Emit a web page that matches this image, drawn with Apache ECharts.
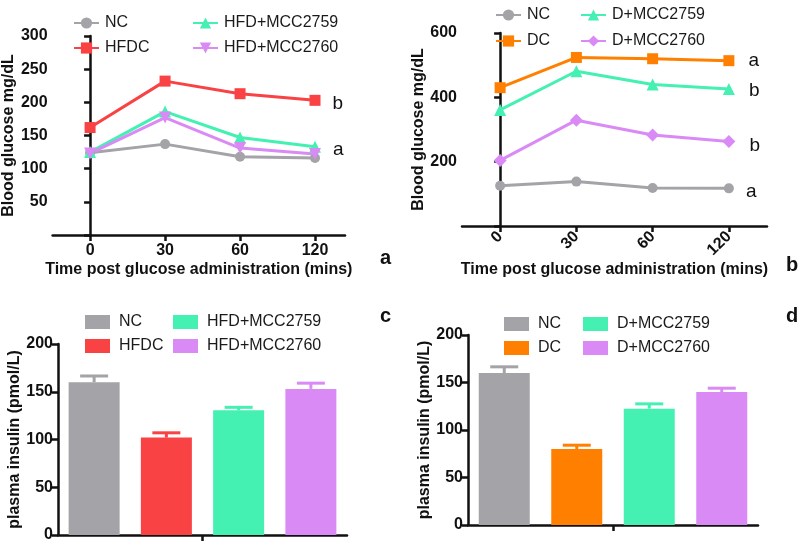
<!DOCTYPE html>
<html>
<head>
<meta charset="utf-8">
<script src="https://cdn.jsdelivr.net/npm/echarts@6/dist/echarts.min.js"></script>
<style>html,body{margin:0;padding:0;background:#fff}#c{width:800px;height:544px}</style>
</head>
<body>
<div id="c"></div>
<script>
// ---- data ----
const timeLabels = ['0', '30', '60', '120'];
const namesA = ['NC', 'HFDC', 'HFD+MCC2759', 'HFD+MCC2760'];
const namesB = ['NC', 'DC', 'D+MCC2759', 'D+MCC2760'];
const glucoseA_NC = [124, 137, 118, 116];
const glucoseA_HFDC = [162, 232, 213, 203];
const glucoseA_2759 = [125, 186, 147, 133];
const glucoseA_2760 = [123, 177, 131, 122];
const glucoseB_NC = [125, 138, 118, 117];
const glucoseB_DC = [430, 524, 520, 514];
const glucoseB_2759 = [361, 481, 440, 426];
const glucoseB_2760 = [204, 329, 283, 263];
const lettersA = ['', 'b', 'a', ''];
const lettersB = ['a', 'a', 'b', 'b'];
const insulinC = [160, 102, 130.5, 153];
const insulinC_err = [6.5, 5, 3.2, 6];
const insulinD = [160, 80, 122.5, 140];
const insulinD_err = [6.5, 4, 5, 4];
const yTicksA = [0, 300, 50];
const yTicksB = [0, 600, 200];
const yTicksInsulin = [0, 200, 50];

// ---- style ----
const FONT = 'Liberation Sans, Arial, sans-serif';
const GREY = '#a3a3a8', RED = '#f94244', GREEN = '#44f0b2', VIOLET = '#da8af5', ORANGE = '#ff8000';
const colorsA = [GREY, RED, GREEN, VIOLET];
const colorsB = [GREY, ORANGE, GREEN, VIOLET];
const symA = ['circle', 'rect', 'triangle', 'triangle'];
const rotA = [0, 0, 0, 180];
const symB = ['circle', 'rect', 'triangle', 'diamond'];
const sizeA = [10, 11, 12, 12];
const sizeB = [10, 11, 12, 13];

const axisLine = {show: true, lineStyle: {color: '#111', width: 2.5}};
const axisTick = {show: true, length: 6, lineStyle: {color: '#111', width: 2.5}};
const tickFont = {fontFamily: FONT, fontWeight: 'bold', fontSize: 16, color: '#111'};
const nameFont = {fontFamily: FONT, fontWeight: 'bold', fontSize: 16, color: '#111'};

function lineSeries(name, vals, color, sym, size, rot, gi, letters, idx, lblOff) {
  const data = vals.map((v, i) => {
    const d = {value: [i, v]};
    if (i === vals.length - 1 && letters[idx]) {
      d.label = {show: true, formatter: letters[idx], position: 'right', distance: 12,
        offset: lblOff, fontFamily: FONT, fontSize: 19, color: '#111'};
    }
    return d;
  });
  return {type: 'line', name: name, xAxisIndex: gi, yAxisIndex: gi, data: data,
    symbol: sym, symbolSize: size, symbolRotate: rot, showAllSymbol: true,
    itemStyle: {color: color}, lineStyle: {color: color, width: 3}, z: 3};
}

function barSeries(name, v, idx, color, gi) {
  return {type: 'bar', name: name, xAxisIndex: gi, yAxisIndex: gi,
    data: [[idx + 0.5, v]], barWidth: 51, barGap: '-100%', itemStyle: {color: color}};
}

function errSeries(vals, errs, colors, gi) {
  return {type: 'custom', xAxisIndex: gi, yAxisIndex: gi, z: 1,
    data: vals.map((v, i) => [i + 0.5, v, errs[i]]),
    renderItem: function (params, api) {
      const x = api.value(0), v = api.value(1), e = api.value(2);
      const p0 = api.coord([x, v]), p1 = api.coord([x, v + e]);
      const c = colors[params.dataIndex];
      return {type: 'group', children: [
        {type: 'line', shape: {x1: p0[0], y1: p0[1], x2: p1[0], y2: p1[1]}, style: {stroke: c, lineWidth: 3}},
        {type: 'line', shape: {x1: p1[0] - 14, y1: p1[1], x2: p1[0] + 14, y2: p1[1]}, style: {stroke: c, lineWidth: 3}}
      ]};
    }};
}

function legend(names, left, top, gap, isBar) {
  return {orient: 'vertical', left: left, top: top, itemGap: gap, itemWidth: 25, itemHeight: 14,
    data: names.map(n => isBar ? {name: n, icon: 'rect'} : {name: n}),
    formatter: n => n.split('#')[0], selectedMode: false,
    textStyle: {fontFamily: FONT, fontSize: 16, color: '#1a1a1a', padding: isBar ? [0, 0, 0, 4] : [0, 0, 0, 1]}};
}

const series = [];
const ltrOffA = [[0, 0], [0, 3], [0, 3], [0, 0]];
namesA.forEach((n, i) => {
  const vals = [glucoseA_NC, glucoseA_HFDC, glucoseA_2759, glucoseA_2760][i];
  series.push(lineSeries(n + '#a', vals, colorsA[i], symA[i], sizeA[i], rotA[i], 0, lettersA, i, ltrOffA[i]));
});
const ltrOffB = [[0, 3], [2, 0], [2, 2], [2, 4]];
namesB.forEach((n, i) => {
  const vals = [glucoseB_NC, glucoseB_DC, glucoseB_2759, glucoseB_2760][i];
  series.push(lineSeries(n + '#b', vals, colorsB[i], symB[i], sizeB[i], 0, 1, lettersB, i, ltrOffB[i]));
});
namesA.forEach((n, i) => series.push(barSeries(n + '#c', insulinC[i], i, colorsA[i], 2)));
series.push(errSeries(insulinC, insulinC_err, colorsA, 2));
namesB.forEach((n, i) => series.push(barSeries(n + '#d', insulinD[i], i, colorsB[i], 3)));
series.push(errSeries(insulinD, insulinD_err, colorsB, 3));

function timeAxis(gi, max, rotate, gap) {
  return {type: 'value', gridIndex: gi, min: -0.5, max: max,
    axisLine: axisLine, splitLine: {show: false},
    axisTick: Object.assign({customValues: [0, 1, 2, 3]}, axisTick),
    axisLabel: Object.assign({customValues: [0, 1, 2, 3], formatter: v => timeLabels[Math.round(v)],
      rotate: rotate, margin: 8}, tickFont),
    name: 'Time post glucose administration (mins)', nameLocation: 'middle', nameGap: gap, nameTextStyle: nameFont};
}
function yAxis(gi, t, name, gap, hideZero) {
  return {type: 'value', gridIndex: gi, min: t[0], max: t[1], interval: t[2],
    axisLine: axisLine, axisTick: axisTick, splitLine: {show: false},
    axisLabel: Object.assign({margin: 5, formatter: v => (hideZero && v === 0) ? '' : String(v)}, tickFont),
    name: name, nameLocation: 'middle', nameGap: gap, nameTextStyle: nameFont};
}
function barXAxis(gi) {
  return {type: 'value', gridIndex: gi, min: 0, max: 4, axisLine: axisLine, splitLine: {show: false},
    axisTick: Object.assign({customValues: [2]}, axisTick), axisLabel: {show: false}};
}

const panelLetter = (t, x, y) => ({type: 'text', left: x, top: y,
  style: {text: t, font: 'bold 20px ' + FONT, fill: '#111'}});

const option = {
  animation: false,
  backgroundColor: '#fff',
  grid: [
    {left: 52, top: 36, width: 293, height: 199},
    {left: 462, top: 33, width: 305, height: 193},
    {left: 58, top: 344, width: 289, height: 191},
    {left: 468, top: 335, width: 290, height: 190}
  ],
  legend: [
    legend(['NC#a', 'HFDC#a'], 68, 10, 9, false),
    legend(['HFD+MCC2759#a', 'HFD+MCC2760#a'], 187, 10, 9, false),
    legend(['NC#b', 'DC#b'], 490, 2, 10, false),
    legend(['D+MCC2759#b', 'D+MCC2760#b'], 575, 2, 10, false),
    legend(['NC#c', 'HFDC#c'], 80, 309, 8, true),
    legend(['HFD+MCC2759#c', 'HFD+MCC2760#c'], 168, 309, 8, true),
    legend(['NC#d', 'DC#d'], 499, 311, 8, true),
    legend(['D+MCC2759#d', 'D+MCC2760#d'], 578, 311, 8, true)
  ],
  xAxis: [timeAxis(0, 3.4, 0, 27), timeAxis(1, 3.5, 45, 36), barXAxis(2), barXAxis(3)],
  yAxis: [
    yAxis(0, yTicksA, 'Blood glucose mg/dL', 32, true),
    yAxis(1, yTicksB, 'Blood glucose mg/dL', 33, true),
    yAxis(2, yTicksInsulin, 'plasma insulin (pmol/L)', 31, false),
    yAxis(3, yTicksInsulin, 'plasma insulin (pmol/L)', 27, false)
  ],
  graphic: [panelLetter('a', 380, 248), panelLetter('b', 786, 255), panelLetter('c', 380, 306), panelLetter('d', 786, 306)],
  series: series
};
const chart = echarts.init(document.getElementById('c'), null, {renderer: 'canvas'});
chart.setOption(option);
</script>
</body>
</html>
